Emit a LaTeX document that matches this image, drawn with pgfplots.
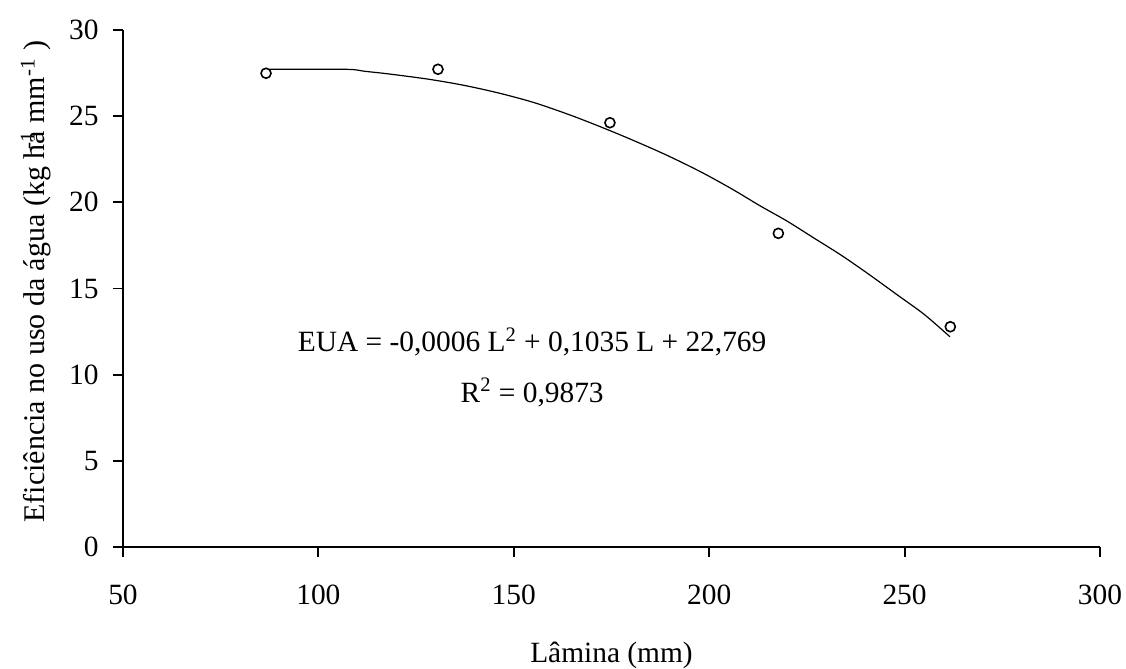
\documentclass[border=0pt]{standalone}
\usepackage{fontspec}
\setmainfont{Liberation Serif}
\usepackage{pgfplots}
\pgfplotsset{compat=1.18}

\newcommand{\chartfont}{\fontsize{14.7pt}{17pt}\selectfont}

\begin{document}
\begin{tikzpicture}
\useasboundingbox (-61.5pt,-61pt) rectangle (501.5pt,273.5pt);
\begin{axis}[
  scale only axis,
  width=488.5pt, height=258.5pt,
  xmin=50, xmax=300, ymin=0, ymax=30,
  xtick={50,100,...,300}, ytick={0,5,...,30},
  axis x line=bottom, axis y line=left,
  axis line style={-, line width=0.9pt},
  tick style={line width=0.9pt, black},
  tick align=outside, major tick length=5pt,
  /pgf/number format/assume math mode=true,
  every tick label/.append style={font=\chartfont, inner sep=0pt},
  xticklabel style={anchor=north, yshift=-14pt},
  yticklabel style={anchor=east, xshift=-7pt},
  xlabel={Lâmina (mm)},
  ylabel={Eficiência no uso da água (kg ha\llap{\textsuperscript{-1}} mm\textsuperscript{-1} )},
  xlabel style={font=\chartfont, at={([yshift=-58pt]rel axis cs:0.5,0)}, anchor=base, inner sep=0pt},
  ylabel style={font=\fontsize{15pt}{17pt}\selectfont, at={([xshift=-39pt]rel axis cs:0,0.513)}, anchor=base, inner sep=0pt},
  clip=false,
]
% fitted curve
\addplot[black, line width=0.6pt, smooth] coordinates {
  (87.5,27.72)(107,27.72)(112,27.6)(118,27.45)(128,27.15)(137,26.8)
  (146,26.35)(155,25.8)(164,25.1)(172,24.4)(180,23.65)(189,22.75)
  (198,21.75)(206,20.75)(213,19.8)(220,18.9)(227,17.9)(234,16.9)
  (241,15.8)(248,14.65)(255,13.5)(261.6,12.2)
};
% observed values
\addplot[only marks, mark=o, mark size=2.5pt, mark options={line width=0.8pt, black}] coordinates {
  (86.6,27.49)(130.6,27.72)(174.6,24.62)(217.7,18.2)(261.7,12.78)
};
\node[font=\chartfont, anchor=base] at (axis cs:154.7,11.32)
  {EUA = -0,0006 L\textsuperscript{2} + 0,1035 L + 22,769};
\node[font=\chartfont, anchor=base] at (axis cs:154.7,8.41)
  {R\textsuperscript{2} = 0,9873};
\end{axis}
\end{tikzpicture}
\end{document}
